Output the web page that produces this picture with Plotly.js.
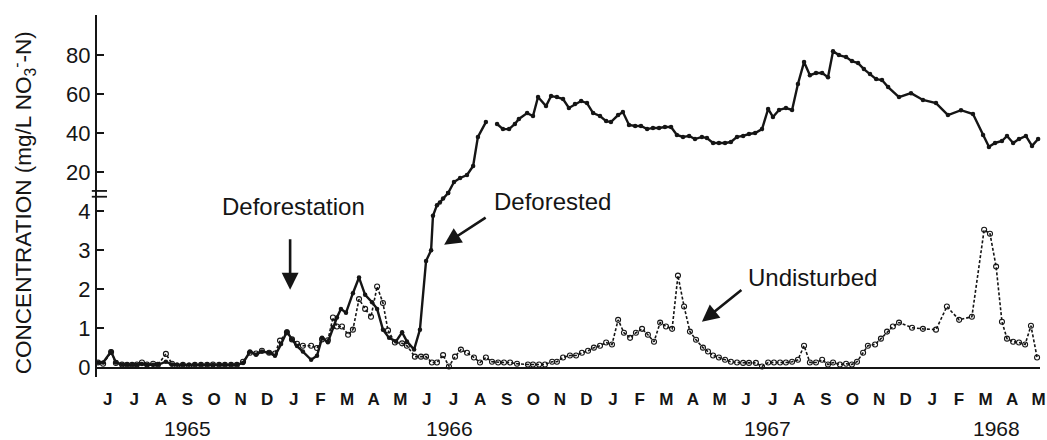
<!DOCTYPE html>
<html>
<head>
<meta charset="utf-8">
<script src="https://cdn.plot.ly/plotly-3.0.1.min.js"></script>
<style>html,body{margin:0;padding:0;background:#fff;}</style>
</head>
<body>
<div id="chart" style="width:1047px;height:440px;"></div>
<script>
// x values: months since 1 June 1965
const monthLetters = ['J','J','A','S','O','N','D','J','F','M','A','M',
                      'J','J','A','S','O','N','D','J','F','M','A','M',
                      'J','J','A','S','O','N','D','J','F','M','A','M'];
const yearLabels = ['1965','1966','1967','1968'];
const yearPos = [3.42, 13.27, 25.19, 33.83];

const lowTicks = [0, 1, 2, 3, 4];
const highTicks = [20, 40, 60, 80];

// Deforested watershed, lower scale part (mg/L)
const defLowX = [0.04,0.23,0.53,0.71,0.94,1.13,1.32,1.50,1.69,1.88,2.11,2.29,2.59,2.82,3.01,3.23,3.46,3.68,3.91,4.14,4.36,4.59,4.81,5.04,5.26,5.49,5.75,5.98,6.20,6.47,6.69,6.92,7.14,7.33,7.52,7.74,8.05,8.27,8.46,8.68,8.87,9.02,9.17,9.36,9.62,9.85,10.08,10.34,10.53,10.75,10.98,11.24,11.47,11.65,11.92,12.14,12.37,12.56,12.63,12.78,12.89,13.01,13.20];
const defLowY = [0.13,0.13,0.41,0.13,0.08,0.07,0.07,0.07,0.09,0.07,0.07,0.07,0.15,0.08,0.07,0.07,0.07,0.07,0.07,0.07,0.07,0.07,0.07,0.07,0.07,0.12,0.41,0.33,0.41,0.38,0.30,0.60,0.92,0.72,0.55,0.41,0.20,0.30,0.76,0.65,1.03,1.28,1.50,1.40,1.90,2.30,1.86,1.67,1.50,0.97,0.76,0.67,0.90,0.67,0.46,0.97,2.72,3.00,3.88,4.15,4.22,4.32,4.46];

// Deforested watershed, upper scale part (mg/L)
const defHighX = [13.20,13.42,13.65,13.91,14.14,14.32,14.62,null,15.04,15.26,15.49,15.71,15.86,16.17,16.39,16.58,16.88,17.07,17.29,17.52,17.74,17.97,18.20,18.42,18.65,18.91,19.14,19.32,19.59,19.77,20.00,20.23,20.45,20.68,20.90,21.13,21.35,21.58,21.80,22.03,22.26,22.48,22.74,22.93,23.16,23.38,23.61,23.83,24.06,24.29,24.51,24.74,25.00,25.23,25.41,25.64,25.90,26.13,26.35,26.58,26.80,27.03,27.26,27.48,27.67,27.89,28.16,28.38,28.61,28.83,29.06,29.29,29.51,29.74,30.15,30.60,31.05,31.54,31.99,32.48,32.93,33.31,33.53,33.76,34.02,34.21,34.44,34.66,34.92,35.15,35.38];
const defHighY = [9.4,15.0,17.1,18.6,23.2,38.1,45.7,null,44.7,42.1,42.1,44.7,47.3,50.3,48.8,58.5,53.9,59.0,58.5,57.5,52.9,54.9,56.5,55.4,50.3,48.8,46.2,45.7,49.3,50.8,44.2,43.7,43.7,42.1,42.7,42.7,43.2,43.2,39.1,38.1,38.6,37.0,38.1,37.5,35.0,35.0,35.0,35.5,38.1,38.6,39.6,40.1,42.1,52.4,48.3,51.9,52.9,51.9,65.2,76.4,69.7,70.8,70.8,68.7,82.0,80.0,79.0,76.9,75.9,72.8,70.3,67.7,67.2,63.6,58.5,60.5,57.0,55.4,49.3,51.8,49.8,39.1,33.0,35.0,36.0,38.6,35.0,37.0,38.6,33.5,37.0];

// Undisturbed watershed (mg/L)
const undX = [0.04,0.23,0.53,0.71,0.94,1.13,1.32,1.50,1.69,1.88,2.11,2.29,2.59,2.82,3.01,3.23,3.46,3.68,3.91,4.14,4.36,4.59,4.81,5.04,5.26,5.49,5.75,5.98,6.20,6.47,6.69,6.88,7.14,7.33,7.52,7.74,8.05,8.27,8.46,8.68,8.87,9.02,9.21,9.44,9.62,9.85,10.08,10.30,10.53,10.75,10.94,11.20,11.47,11.65,11.95,12.18,12.37,12.59,12.78,13.01,13.23,13.46,13.68,13.91,14.17,14.40,14.62,14.85,15.08,15.30,15.53,15.79,16.20,16.39,16.62,16.84,17.11,17.29,17.52,17.78,18.01,18.23,18.46,18.68,18.91,19.14,19.36,19.59,19.81,20.04,20.26,20.49,20.71,20.94,21.17,21.39,21.62,21.84,22.07,22.29,22.52,22.78,22.97,23.16,23.38,23.61,23.83,24.06,24.29,24.51,24.77,25.00,25.23,25.45,25.68,25.90,26.13,26.35,26.58,26.80,27.03,27.26,27.48,27.67,27.93,28.16,28.38,28.57,28.80,28.98,29.25,29.47,29.70,29.92,30.15,30.64,31.05,31.54,31.95,32.41,32.89,33.35,33.57,33.80,34.02,34.21,34.44,34.66,34.89,35.11,35.34];
const undY = [0.13,0.10,0.40,0.12,0.08,0.07,0.07,0.08,0.13,0.08,0.10,0.07,0.35,0.10,0.05,0.07,0.05,0.07,0.07,0.07,0.08,0.07,0.07,0.07,0.07,0.15,0.38,0.36,0.43,0.38,0.36,0.69,0.90,0.72,0.61,0.56,0.56,0.50,0.72,0.70,1.28,1.05,1.05,0.84,0.97,1.75,1.50,1.30,2.07,1.65,0.95,0.64,0.62,0.56,0.28,0.28,0.28,0.13,0.13,0.32,0.03,0.28,0.46,0.38,0.26,0.13,0.26,0.15,0.13,0.13,0.13,0.10,0.08,0.08,0.08,0.08,0.15,0.15,0.26,0.31,0.31,0.38,0.43,0.51,0.56,0.64,0.59,1.22,0.89,0.76,0.89,0.99,0.84,0.66,1.15,1.05,0.99,2.35,1.56,0.92,0.71,0.51,0.41,0.31,0.26,0.20,0.15,0.13,0.12,0.12,0.12,0.03,0.13,0.13,0.13,0.13,0.15,0.20,0.56,0.13,0.13,0.20,0.08,0.13,0.08,0.10,0.08,0.15,0.38,0.56,0.59,0.74,0.92,1.05,1.15,1.02,0.99,0.97,1.56,1.22,1.30,3.52,3.42,2.58,1.17,0.74,0.66,0.64,0.59,1.07,0.26];

const INK = '#151515';
const FONT = '"Liberation Sans", Arial, Helvetica, sans-serif';
const NARROW = '"Liberation Sans Narrow", "Liberation Sans", Arial, sans-serif';

const traces = [
  {x: undX, y: undY, xaxis: 'x', yaxis: 'y', type: 'scatter', mode: 'lines+markers',
   cliponaxis: false,
   line: {color: INK, width: 1.6, dash: '3px,2px'},
   marker: {symbol: 'circle-open', size: 5, color: INK, line: {width: 1.1, color: INK}}},
  {x: defLowX, y: defLowY, xaxis: 'x', yaxis: 'y', type: 'scatter', mode: 'lines+markers',
   cliponaxis: false,
   line: {color: INK, width: 2.4},
   marker: {symbol: 'circle', size: 4.5, color: INK}},
  {x: defHighX, y: defHighY, xaxis: 'x', yaxis: 'y2', type: 'scatter', mode: 'lines+markers',
   cliponaxis: false, connectgaps: false,
   line: {color: INK, width: 2.4},
   marker: {symbol: 'circle', size: 4.5, color: INK}}
];

const tickvals = monthLetters.map((_, i) => i + 0.4);

const axisY = {
  showline: true, linecolor: INK, linewidth: 2,
  ticks: 'inside', ticklen: 7, tickwidth: 2, tickcolor: INK,
  showgrid: false, tickfont: {family: FONT, size: 22, color: INK},
  fixedrange: true
};

const layout = {
  width: 1047, height: 440,
  margin: {l: 97, r: 7, t: 15, b: 63},
  paper_bgcolor: '#fff', plot_bgcolor: '#fff',
  showlegend: false,
  font: {family: FONT, color: INK},
  xaxis: {
    range: [0, 35.45], domain: [0, 1], anchor: 'y',
    showline: false, zeroline: false, showgrid: false, ticks: '',
    tickmode: 'array', tickvals: tickvals, ticktext: monthLetters,
    tickangle: 0, ticklabelstandoff: 10,
    tickfont: {family: NARROW, size: 17, weight: 'bold', color: INK}
  },
  yaxis: Object.assign({}, axisY, {
    domain: [0, 0.5083], range: [-0.24, 4.46], anchor: 'x',
    tickmode: 'array', tickvals: lowTicks,
    zeroline: true, zerolinecolor: INK, zerolinewidth: 2
  }),
  yaxis2: Object.assign({}, axisY, {
    domain: [0.5083, 1], range: [9.4, 100.5], anchor: 'x',
    tickmode: 'array', tickvals: highTicks, zeroline: false
  }),
  shapes: [
    {type: 'line', xref: 'paper', yref: 'paper', x0: -0.0055, x1: 0.0106, y0: 0.514, y1: 0.514, line: {color: INK, width: 1.8}},
    {type: 'line', xref: 'paper', yref: 'paper', x0: -0.0055, x1: 0.0106, y0: 0.498, y1: 0.498, line: {color: INK, width: 1.8}}
  ],
  annotations: [
    {xref: 'paper', yref: 'paper', x: -0.0785, y: 0.483, textangle: -90, showarrow: false,
     xanchor: 'center', yanchor: 'middle',
     text: 'CONCENTRATION (mg/L NO<sub>3</sub><sup>-</sup>-N)',
     font: {family: FONT, size: 22.5, color: INK}},
    {xref: 'x', yref: 'y', x: 7.37, y: 4.11, text: 'Deforestation', showarrow: false,
     font: {family: FONT, size: 24, color: INK}},
    {xref: 'x', yref: 'y', x: 17.14, y: 4.24, text: 'Deforested', showarrow: false,
     font: {family: FONT, size: 24, color: INK}},
    {xref: 'x', yref: 'y', x: 26.88, y: 2.30, text: 'Undisturbed', showarrow: false,
     font: {family: FONT, size: 24, color: INK}},
    {xref: 'x', yref: 'y', x: 7.26, y: 1.99, ax: 0, ay: -52, text: '', showarrow: true,
     arrowhead: 2, arrowsize: 1.3, arrowwidth: 2.6, arrowcolor: INK, standoff: 0},
    {xref: 'x', yref: 'y', x: 13.05, y: 3.14, ax: 43, ay: -28, text: '', showarrow: true,
     arrowhead: 2, arrowsize: 1.3, arrowwidth: 2.6, arrowcolor: INK, standoff: 0},
    {xref: 'x', yref: 'y', x: 22.74, y: 1.17, ax: 41, ay: -33, text: '', showarrow: true,
     arrowhead: 2, arrowsize: 1.3, arrowwidth: 2.6, arrowcolor: INK, standoff: 0}
  ].concat(yearLabels.map((t, i) => ({
    xref: 'x', yref: 'paper', x: yearPos[i], y: -0.141, text: t, showarrow: false,
    xanchor: 'center', yanchor: 'middle',
    font: {family: FONT, size: 21, color: INK}
  })))
};

Plotly.newPlot('chart', traces, layout, {staticPlot: true, displayModeBar: false});
</script>
</body>
</html>
